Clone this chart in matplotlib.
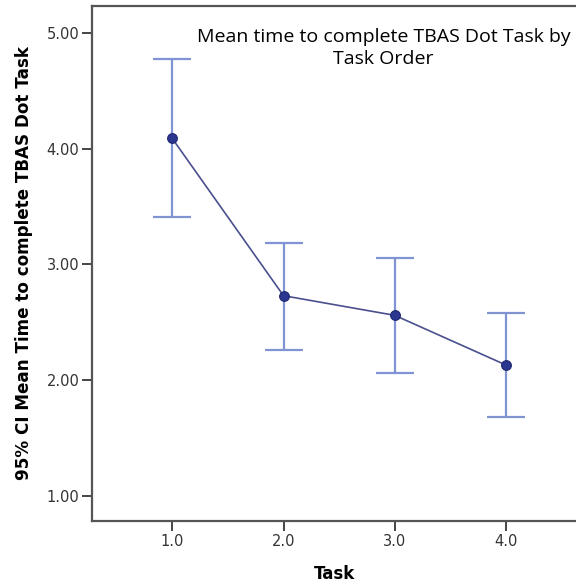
import matplotlib
matplotlib.use("Agg")
import matplotlib.pyplot as plt

# Task order and mean completion time with 95% CI bounds
tasks = [1.0, 2.0, 3.0, 4.0]
means = [4.09, 2.73, 2.56, 2.13]
ci_upper = [4.78, 3.19, 3.06, 2.58]
ci_lower = [3.41, 2.26, 2.06, 1.68]
yticks = [1.0, 2.0, 3.0, 4.0, 5.0]

fig = plt.figure(figsize=(5.76, 5.86), dpi=100)
ax = fig.add_axes([92 / 576, 1 - 521 / 586, 1 - 92 / 576, (521 - 6) / 586])

err_lo = [m - l for m, l in zip(means, ci_lower)]
err_hi = [u - m for m, u in zip(means, ci_upper)]
ax.errorbar(tasks, means, yerr=[err_lo, err_hi], fmt="none",
            ecolor="#8093d2", elinewidth=1.6, capsize=13.5, capthick=1.6, zorder=2)
ax.plot(tasks, means, color="#4a4f8e", lw=1.2, zorder=3)
ax.plot(tasks, means, "o", ms=7, color="#2b3690", mec="#1e2670", mew=0.8, zorder=4)

ax.set_xlim(0.2785, 4.629)
ax.set_ylim(0.781, 5.236)
ax.set_xticks(tasks)
ax.set_xticklabels([f"{t:.1f}" for t in tasks])
ax.set_yticks(yticks)
ax.set_yticklabels([f"{v:.2f}" for v in yticks])

for s in ("left", "bottom", "top"):
    ax.spines[s].set_color("#555555")
    ax.spines[s].set_linewidth(1.6)
ax.spines["right"].set_visible(False)
ax.tick_params(axis="both", direction="out", length=7, width=1.4,
               color="#444444", labelcolor="#333333", labelsize=10.5, pad=2)

ax.set_ylabel("95% CI Mean Time to complete TBAS Dot Task",
              fontsize=12.1, fontweight="bold", labelpad=10)
ax.set_xlabel("Task", fontsize=12, fontweight="bold", labelpad=12)

ax.text((383.5 - 92) / 484, 0.957, "Mean time to complete TBAS Dot Task by\nTask Order",
        transform=ax.transAxes, ha="center", va="top", fontsize=14,
        family="Open Sans", linespacing=1.25)

fig.savefig("out.png", dpi=100)
